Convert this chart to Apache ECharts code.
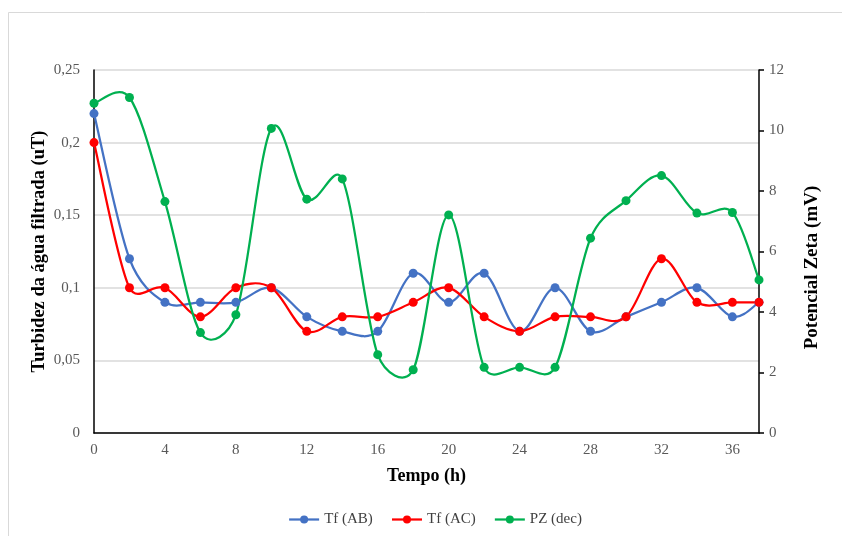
<!DOCTYPE html>
<html>
<head>
<meta charset="utf-8">
<script src="https://cdn.jsdelivr.net/npm/echarts@6/dist/echarts.min.js"></script>
<style>
html,body{margin:0;padding:0;background:#fff;}
#c{width:842px;height:536px;}
</style>
</head>
<body>
<div id="c"></div>
<script>
const hours = [0,2,4,6,8,10,12,14,16,18,20,22,24,26,28,30,32,34,36,37.5];
const tfAB = [0.22,0.12,0.09,0.09,0.09,0.10,0.08,0.07,0.07,0.11,0.09,0.11,0.07,0.10,0.07,0.08,0.09,0.10,0.08,0.09];
const tfAC = [0.20,0.10,0.10,0.08,0.10,0.10,0.07,0.08,0.08,0.09,0.10,0.08,0.07,0.08,0.08,0.08,0.12,0.09,0.09,0.09];
const pzDec = [10.9,11.09,7.65,3.32,3.91,10.07,7.73,8.40,2.59,2.09,7.21,2.17,2.17,2.17,6.44,7.68,8.51,7.27,7.29,5.06];
const seriesNames = ['Tf (AB)','Tf (AC)','PZ (dec)'];
const colors = ['#4472C4','#FF0000','#00B050'];

const zip = (xs, ys) => xs.map((x,i)=>[x, ys[i]]);
const serif = 'Liberation Serif';
const chart = echarts.init(document.getElementById('c'), null, {renderer:'canvas'});

const dist = (a, b) => Math.hypot(a[0]-b[0], a[1]-b[1]);
// Smoothed curve (Catmull-Rom style Bezier, arms capped at half the segment) through axis-mapped data
function curveSeries(xs, ys, color, yIdx) {
  return {
    type:'custom', yAxisIndex:yIdx, data:[[xs[0], ys[0]]], z:2, silent:true,
    renderItem:(params, api) => {
      const p = xs.map((x,i) => api.coord([x, ys[i]]));
      const n = p.length;
      let d = 'M' + p[0][0] + ' ' + p[0][1];
      for (let i = 0; i < n - 1; i++) {
        const p0 = p[Math.max(i-1,0)], p1 = p[i], p2 = p[i+1], p3 = p[Math.min(i+2,n-1)];
        const d12 = dist(p1, p2), d02 = dist(p0, p2), d13 = dist(p1, p3);
        const f1 = d02 > 0 ? Math.min(1/6, d12 / 2 / d02) : 0;
        const f2 = d13 > 0 ? Math.min(1/6, d12 / 2 / d13) : 0;
        const c1x = p1[0] + (p2[0]-p0[0])*f1, c1y = p1[1] + (p2[1]-p0[1])*f1;
        const c2x = p2[0] - (p3[0]-p1[0])*f2, c2y = p2[1] - (p3[1]-p1[1])*f2;
        d += ' C' + c1x + ' ' + c1y + ' ' + c2x + ' ' + c2y + ' ' + p2[0] + ' ' + p2[1];
      }
      return {type:'path', shape:{pathData:d}, style:{fill:'none', stroke:color, lineWidth:2.25}};
    }
  };
}
const pointSeries = (name, data, color, yIdx) => ({
  name, type:'line', data, yAxisIndex:yIdx,
  symbol:'circle', symbolSize:9,
  lineStyle:{color, width:2.25, opacity:0},
  itemStyle:{color},
  z:3
});
chart.setOption({
  animation:false,
  backgroundColor:'#fff',
  color:colors,
  graphic:[{type:'rect', shape:{x:8.5,y:12.5,width:900,height:600}, style:{fill:'none',stroke:'#d9d9d9',lineWidth:1}, silent:true, z:-1}],
  grid:{left:94, right:83, top:70, bottom:103},
  legend:{
    top:507, left:283, itemWidth:30, itemHeight:10, itemGap:18,
    textStyle:{fontFamily:serif, fontSize:15, color:'#404040'},
    lineStyle:{opacity:1, width:2.25},
    data:seriesNames
  },
  xAxis:{
    type:'value', min:0, max:37.5, interval:4,
    name:'Tempo (h)', nameLocation:'middle', nameGap:34,
    nameTextStyle:{fontFamily:serif, fontWeight:'bold', fontSize:18, color:'#000'},
    axisLine:{lineStyle:{color:'#000', width:1.5}},
    axisTick:{show:false},
    splitLine:{show:false},
    axisLabel:{fontFamily:serif, fontSize:15, color:'#595959', margin:10,
      formatter:v => (v % 4 === 0 ? String(v) : '')}
  },
  yAxis:[{
    type:'value', min:0, max:0.25, interval:0.05,
    name:'Turbidez da água filtrada (uT)', nameLocation:'middle', nameGap:45, nameMoveOverlap:false,
    nameTextStyle:{fontFamily:serif, fontWeight:'bold', fontSize:18.5, color:'#000'},
    axisLine:{show:true, lineStyle:{color:'#000', width:1.5}},
    axisTick:{show:false},
    splitLine:{show:true, lineStyle:{color:'#d9d9d9', width:1.5}},
    axisLabel:{fontFamily:serif, fontSize:15, color:'#595959', margin:14,
      formatter:v => String(+v.toFixed(2)).replace('.', ',')}
  },{
    type:'value', min:0, max:12, interval:2, position:'right',
    name:'Potencial Zeta (mV)', nameLocation:'middle', nameGap:44,
    nameTextStyle:{fontFamily:serif, fontWeight:'bold', fontSize:19, color:'#000', padding:[0,32,0,0]},
    axisLine:{show:true, lineStyle:{color:'#000', width:1.5}},
    axisTick:{show:true, inside:false, length:5, lineStyle:{color:'#000', width:1.5}},
    splitLine:{show:false},
    axisLabel:{fontFamily:serif, fontSize:15, color:'#595959', margin:10}
  }],
  series:[
    curveSeries(hours, tfAB, colors[0], 0),
    curveSeries(hours, tfAC, colors[1], 0),
    curveSeries(hours, pzDec, colors[2], 1),
    pointSeries(seriesNames[0], zip(hours, tfAB), colors[0], 0),
    pointSeries(seriesNames[1], zip(hours, tfAC), colors[1], 0),
    pointSeries(seriesNames[2], zip(hours, pzDec), colors[2], 1)
  ]
});
</script>
</body>
</html>
